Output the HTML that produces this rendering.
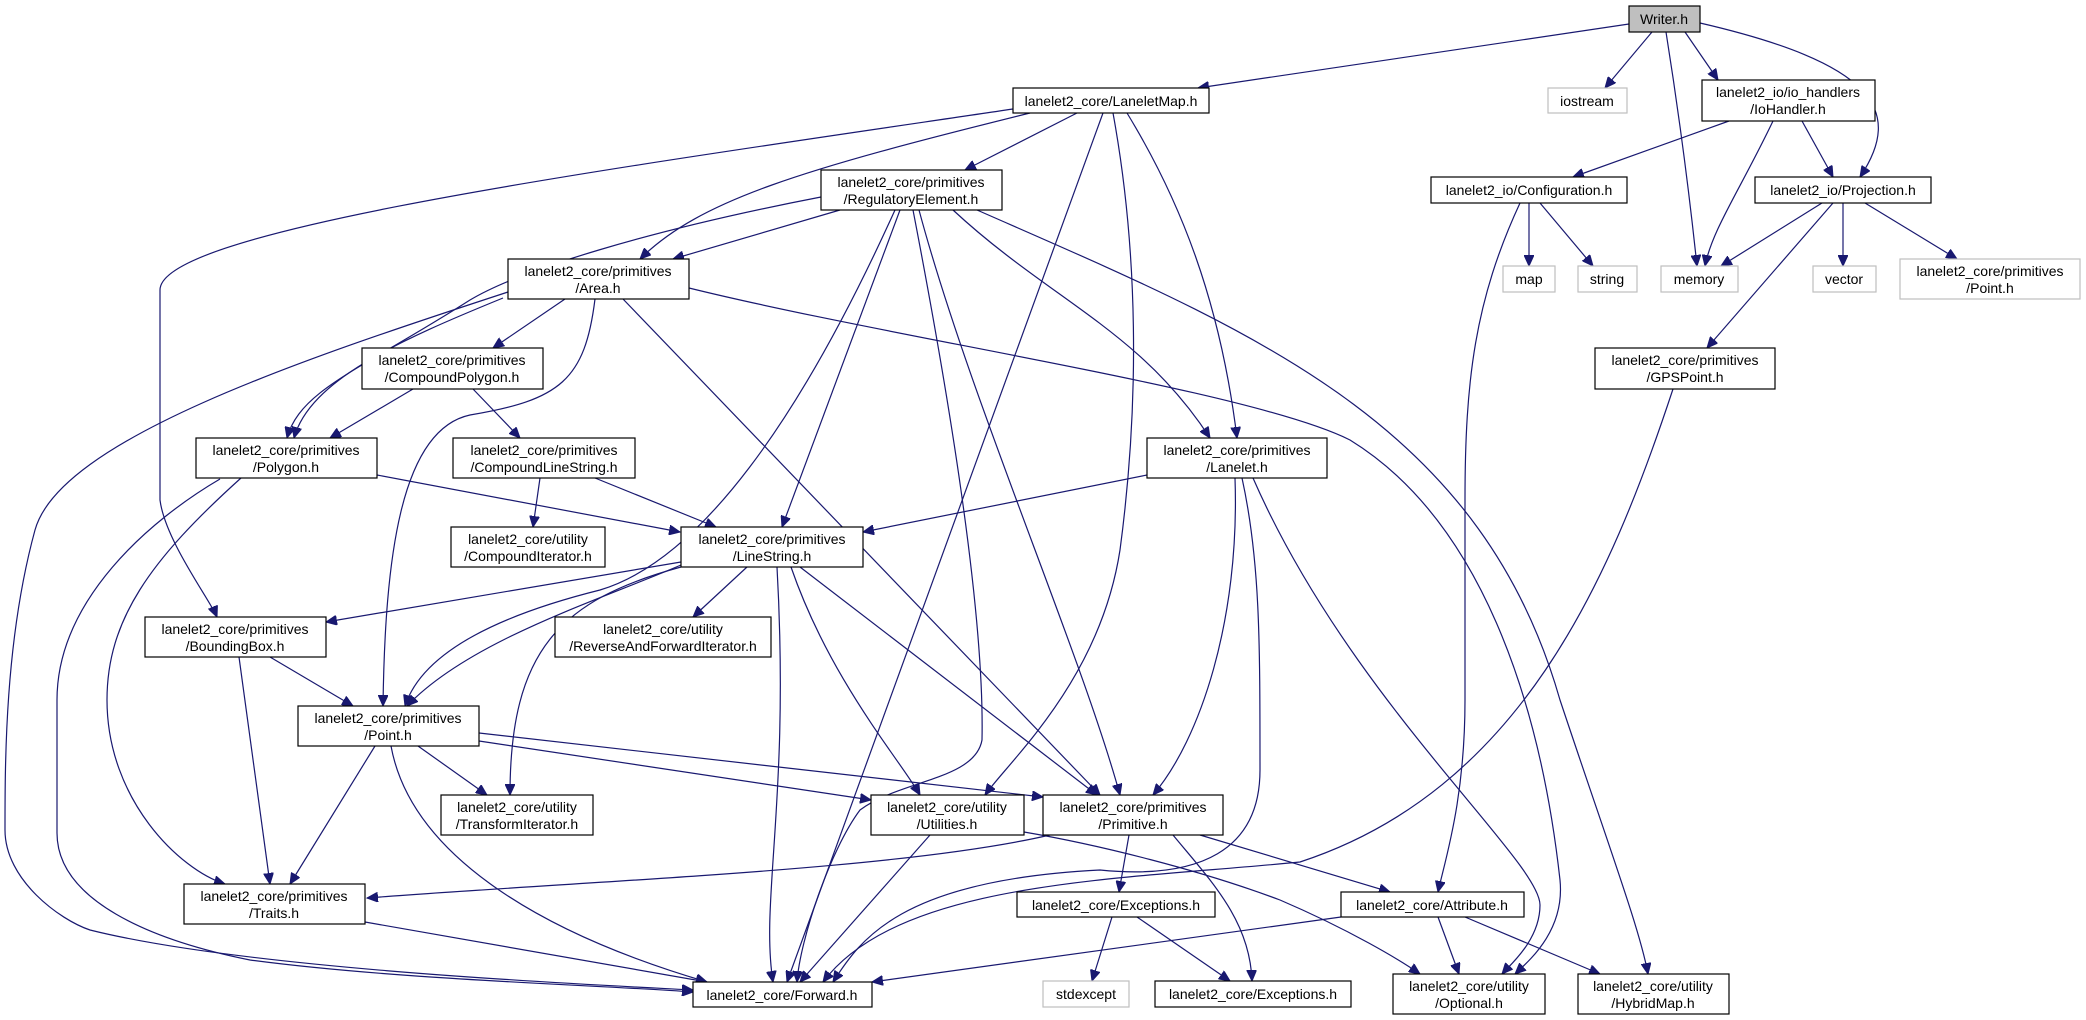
<!DOCTYPE html>
<html><head><meta charset="utf-8"><style>html,body{margin:0;padding:0;background:#fff}svg{display:block}</style></head><body>
<svg width="2086" height="1020" viewBox="0 0 2086 1020" xmlns="http://www.w3.org/2000/svg" font-family="Liberation Sans, DejaVu Sans, sans-serif" font-size="14">
<defs><marker id="a" markerWidth="12" markerHeight="10" refX="11" refY="5" orient="auto" markerUnits="userSpaceOnUse"><path d="M0,0 L11,5 L0,10 z" fill="#191970" stroke="#191970"/></marker></defs>
<g fill="none" stroke="#191970" stroke-width="1.2" marker-end="url(#a)">
<path d="M1629,24 L1198,88"/>
<path d="M1652,32 L1605,88"/>
<path d="M1666,32 C1680,120 1690,200 1697,266"/>
<path d="M1685,32 L1718,80"/>
<path d="M1700,23 C1873,63 1905,110 1860,177"/>
<path d="M1729,121 L1573,177"/>
<path d="M1773,121 C1740,190 1712,230 1705,266"/>
<path d="M1802,121 L1833,177"/>
<path d="M1529,203 L1529,266"/>
<path d="M1540,203 L1593,266"/>
<path d="M1520,203 C1475,300 1465,380 1465,500 L1465,700 C1465,800 1445,860 1438,892"/>
<path d="M1822,203 L1721,266"/>
<path d="M1843,203 L1843,266"/>
<path d="M1865,203 L1957,259"/>
<path d="M1833,203 L1707,348"/>
<path d="M1673,389 C1610,580 1520,790 1300,862 C1120,880 900,880 823,982"/>
<path d="M1013,109 C600,170 160,230 160,290 L160,500 C165,540 210,600 217,617"/>
<path d="M1030,113 C800,170 700,200 640,259"/>
<path d="M1077,113 L965,170"/>
<path d="M1103,113 L787,982"/>
<path d="M1113,113 C1138,250 1140,400 1120,550 C1100,680 1010,760 985,795"/>
<path d="M1127,113 C1180,200 1220,300 1237,438"/>
<path d="M840,210 L673,259"/>
<path d="M821,197 C650,230 520,270 470,300 C360,370 300,390 287,438"/>
<path d="M895,210 C800,420 700,560 600,590 C480,620 420,660 405,706"/>
<path d="M900,210 L782,527"/>
<path d="M913,210 C940,350 985,600 982,740 C975,780 900,780 860,810 C830,850 800,940 797,982"/>
<path d="M919,210 C970,400 1080,650 1120,795"/>
<path d="M953,210 C1050,300 1140,330 1210,438"/>
<path d="M977,210 C1250,330 1480,420 1560,700 C1610,850 1640,930 1648,974"/>
<path d="M565,299 L493,348"/>
<path d="M503,298 C400,340 310,380 294,438"/>
<path d="M508,292 C300,360 60,440 35,530 C5,640 5,760 5,830 C5,880 60,920 90,930 C250,970 600,985 693,990"/>
<path d="M595,299 C585,380 560,400 470,415 C400,430 385,560 383,706"/>
<path d="M623,299 L1100,795"/>
<path d="M689,288 C900,340 1250,390 1350,440 C1480,520 1540,700 1560,880 C1565,930 1530,960 1515,974"/>
<path d="M413,389 L330,438"/>
<path d="M377,475 L680,532"/>
<path d="M220,479 C150,520 57,600 57,700 L57,833 C57,900 150,940 250,960 C400,980 600,985 693,992"/>
<path d="M241,478 C150,560 107,620 107,700 C107,800 180,870 225,884"/>
<path d="M473,389 L520,438"/>
<path d="M540,478 L533,527"/>
<path d="M595,478 L716,527"/>
<path d="M1147,475 L863,532"/>
<path d="M1235,478 C1240,620 1200,740 1153,795"/>
<path d="M1242,478 C1260,560 1260,640 1260,770 C1260,850 1200,880 1100,870 C900,880 860,940 833,982"/>
<path d="M1253,478 C1350,700 1540,860 1540,905 C1540,940 1510,965 1502,974"/>
<path d="M681,562 L326,622"/>
<path d="M681,565 C600,600 470,640 407,706"/>
<path d="M681,567 C560,600 510,650 510,795"/>
<path d="M747,567 L693,617"/>
<path d="M777,567 C790,800 760,900 773,982"/>
<path d="M791,567 C830,680 900,760 920,795"/>
<path d="M800,567 L1097,795"/>
<path d="M270,657 L353,706"/>
<path d="M239,657 L270,884"/>
<path d="M375,746 L290,884"/>
<path d="M391,746 C410,850 530,930 707,982"/>
<path d="M418,746 L487,795"/>
<path d="M479,741 L871,800"/>
<path d="M479,733 L1043,797"/>
<path d="M930,835 L800,982"/>
<path d="M1024,832 C1100,845 1200,870 1280,900 C1350,930 1400,960 1420,974"/>
<path d="M1050,835 C900,870 600,880 367,898"/>
<path d="M1129,835 L1119,892"/>
<path d="M1173,835 C1210,880 1250,920 1252,981"/>
<path d="M1200,835 L1390,892"/>
<path d="M1112,917 L1092,981"/>
<path d="M1137,917 L1230,981"/>
<path d="M1341,917 L872,982"/>
<path d="M1438,917 L1459,974"/>
<path d="M1465,917 L1600,974"/>
<path d="M365,922 L707,982"/>
</g>
<g stroke="#000" stroke-width="1.2" fill="#fff">
<rect x="1629" y="6" width="71" height="26" fill="#bfbfbf"/>
<rect x="1013" y="88" width="196" height="25"/>
<rect x="1548" y="88" width="79" height="25" stroke="#bfbfbf"/>
<rect x="1702" y="80" width="173" height="41"/>
<rect x="1431" y="177" width="196" height="26"/>
<rect x="1755" y="177" width="176" height="26"/>
<rect x="1503" y="266" width="52" height="26" stroke="#bfbfbf"/>
<rect x="1578" y="266" width="59" height="26" stroke="#bfbfbf"/>
<rect x="1661" y="266" width="77" height="26" stroke="#bfbfbf"/>
<rect x="1813" y="266" width="63" height="26" stroke="#bfbfbf"/>
<rect x="1900" y="259" width="180" height="40" stroke="#bfbfbf"/>
<rect x="1595" y="348" width="180" height="41"/>
<rect x="1147" y="438" width="180" height="40"/>
<rect x="821" y="170" width="181" height="40"/>
<rect x="508" y="259" width="181" height="40"/>
<rect x="362" y="348" width="181" height="41"/>
<rect x="196" y="438" width="181" height="40"/>
<rect x="453" y="438" width="182" height="40"/>
<rect x="451" y="527" width="154" height="40"/>
<rect x="681" y="527" width="182" height="40"/>
<rect x="145" y="617" width="181" height="40"/>
<rect x="555" y="617" width="216" height="40"/>
<rect x="298" y="706" width="181" height="40"/>
<rect x="441" y="795" width="152" height="40"/>
<rect x="871" y="795" width="153" height="40"/>
<rect x="184" y="884" width="181" height="40"/>
<rect x="693" y="982" width="179" height="25"/>
<rect x="1043" y="795" width="180" height="40"/>
<rect x="1017" y="892" width="198" height="25"/>
<rect x="1341" y="892" width="183" height="25"/>
<rect x="1043" y="981" width="86" height="26" stroke="#bfbfbf"/>
<rect x="1155" y="981" width="196" height="26"/>
<rect x="1393" y="974" width="152" height="40"/>
<rect x="1578" y="974" width="151" height="40"/>
</g>
<g fill="#000" text-anchor="middle">
<text x="1664" y="24">Writer.h</text>
<text x="1111" y="106">lanelet2_core/LaneletMap.h</text>
<text x="1587" y="106">iostream</text>
<text x="1788" y="97">lanelet2_io/io_handlers</text><text x="1788" y="114">/IoHandler.h</text>
<text x="1529" y="195">lanelet2_io/Configuration.h</text>
<text x="1843" y="195">lanelet2_io/Projection.h</text>
<text x="1529" y="284">map</text>
<text x="1607" y="284">string</text>
<text x="1699" y="284">memory</text>
<text x="1844" y="284">vector</text>
<text x="1990" y="276">lanelet2_core/primitives</text><text x="1990" y="293">/Point.h</text>
<text x="1685" y="365">lanelet2_core/primitives</text><text x="1685" y="382">/GPSPoint.h</text>
<text x="1237" y="455">lanelet2_core/primitives</text><text x="1237" y="472">/Lanelet.h</text>
<text x="911" y="187">lanelet2_core/primitives</text><text x="911" y="204">/RegulatoryElement.h</text>
<text x="598" y="276">lanelet2_core/primitives</text><text x="598" y="293">/Area.h</text>
<text x="452" y="365">lanelet2_core/primitives</text><text x="452" y="382">/CompoundPolygon.h</text>
<text x="286" y="455">lanelet2_core/primitives</text><text x="286" y="472">/Polygon.h</text>
<text x="544" y="455">lanelet2_core/primitives</text><text x="544" y="472">/CompoundLineString.h</text>
<text x="528" y="544">lanelet2_core/utility</text><text x="528" y="561">/CompoundIterator.h</text>
<text x="772" y="544">lanelet2_core/primitives</text><text x="772" y="561">/LineString.h</text>
<text x="235" y="634">lanelet2_core/primitives</text><text x="235" y="651">/BoundingBox.h</text>
<text x="663" y="634">lanelet2_core/utility</text><text x="663" y="651">/ReverseAndForwardIterator.h</text>
<text x="388" y="723">lanelet2_core/primitives</text><text x="388" y="740">/Point.h</text>
<text x="517" y="812">lanelet2_core/utility</text><text x="517" y="829">/TransformIterator.h</text>
<text x="947" y="812">lanelet2_core/utility</text><text x="947" y="829">/Utilities.h</text>
<text x="274" y="901">lanelet2_core/primitives</text><text x="274" y="918">/Traits.h</text>
<text x="782" y="1000">lanelet2_core/Forward.h</text>
<text x="1133" y="812">lanelet2_core/primitives</text><text x="1133" y="829">/Primitive.h</text>
<text x="1116" y="910">lanelet2_core/Exceptions.h</text>
<text x="1432" y="910">lanelet2_core/Attribute.h</text>
<text x="1086" y="999">stdexcept</text>
<text x="1253" y="999">lanelet2_core/Exceptions.h</text>
<text x="1469" y="991">lanelet2_core/utility</text><text x="1469" y="1008">/Optional.h</text>
<text x="1653" y="991">lanelet2_core/utility</text><text x="1653" y="1008">/HybridMap.h</text>
</g>
</svg>
</body></html>
